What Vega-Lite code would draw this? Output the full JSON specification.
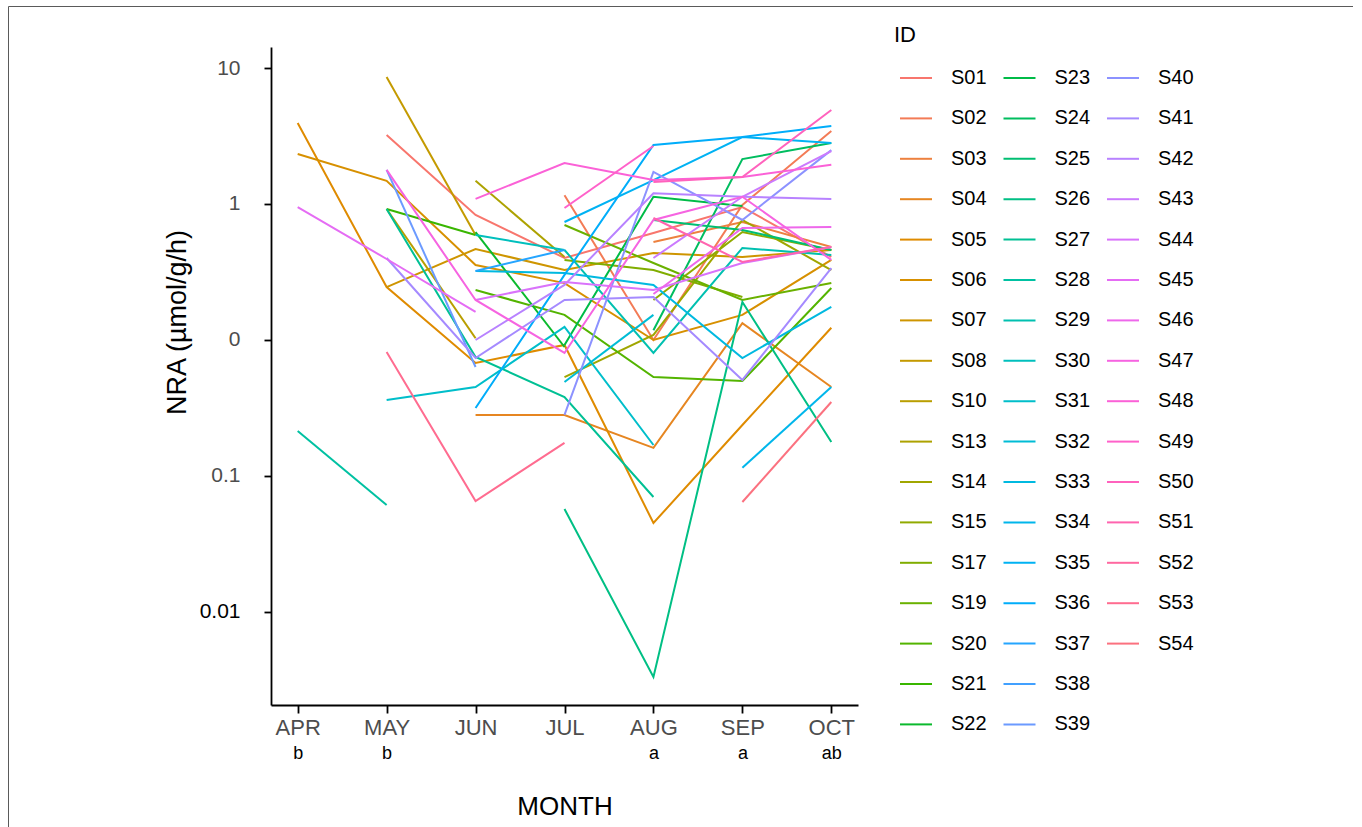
{
  "$schema": "https://vega.github.io/schema/vega-lite/v6.json",
  "width": 1345,
  "height": 824,
  "autosize": {"type": "none"},
  "padding": {"left": 8, "top": 6, "right": 0, "bottom": 0},
  "background": "white",
  "config": {"font": "Liberation Sans", "view": {"stroke": "#5a5a5a", "strokeWidth": 1}},
  "data": {"values": [
    {"ID":"S01","MONTH":"MAY","NRA":3.22},{"ID":"S01","MONTH":"JUN","NRA":0.830},{"ID":"S01","MONTH":"JUL","NRA":0.401},{"ID":"S01","MONTH":"AUG","NRA":0.612},{"ID":"S01","MONTH":"SEP","NRA":0.95},{"ID":"S01","MONTH":"OCT","NRA":0.408},
    {"ID":"S02","MONTH":"JUL","NRA":1.16},{"ID":"S02","MONTH":"AUG","NRA":0.100},{"ID":"S02","MONTH":"SEP","NRA":0.983},{"ID":"S02","MONTH":"OCT","NRA":3.44},
    {"ID":"S03","MONTH":"AUG","NRA":0.526},{"ID":"S03","MONTH":"SEP","NRA":0.737},{"ID":"S03","MONTH":"OCT","NRA":0.483},
    {"ID":"S04","MONTH":"JUN","NRA":0.0281},{"ID":"S04","MONTH":"JUL","NRA":0.0281},{"ID":"S04","MONTH":"AUG","NRA":0.0161},{"ID":"S04","MONTH":"SEP","NRA":0.133},{"ID":"S04","MONTH":"OCT","NRA":0.0451},
    {"ID":"S05","MONTH":"APR","NRA":3.94},{"ID":"S05","MONTH":"MAY","NRA":0.245},{"ID":"S05","MONTH":"JUN","NRA":0.0678},{"ID":"S05","MONTH":"JUL","NRA":0.0919},{"ID":"S05","MONTH":"AUG","NRA":0.00451},{"ID":"S05","MONTH":"SEP","NRA":0.0237},{"ID":"S05","MONTH":"OCT","NRA":0.123},
    {"ID":"S06","MONTH":"APR","NRA":2.33},{"ID":"S06","MONTH":"MAY","NRA":1.48},{"ID":"S06","MONTH":"JUN","NRA":0.356},{"ID":"S06","MONTH":"JUL","NRA":0.262},{"ID":"S06","MONTH":"AUG","NRA":0.100},{"ID":"S06","MONTH":"SEP","NRA":0.153},{"ID":"S06","MONTH":"OCT","NRA":0.388},
    {"ID":"S07","MONTH":"MAY","NRA":0.245},{"ID":"S07","MONTH":"JUN","NRA":0.467},{"ID":"S07","MONTH":"JUL","NRA":0.327},{"ID":"S07","MONTH":"AUG","NRA":0.436},{"ID":"S07","MONTH":"SEP","NRA":0.408},{"ID":"S07","MONTH":"OCT","NRA":0.459},
    {"ID":"S08","MONTH":"MAY","NRA":8.59},{"ID":"S08","MONTH":"JUN","NRA":0.592},
    {"ID":"S10","MONTH":"MAY","NRA":0.919},{"ID":"S10","MONTH":"JUN","NRA":0.103},
    {"ID":"S13","MONTH":"JUN","NRA":1.48},{"ID":"S13","MONTH":"JUL","NRA":0.408},
    {"ID":"S14","MONTH":"JUL","NRA":0.0534},{"ID":"S14","MONTH":"AUG","NRA":0.109},{"ID":"S14","MONTH":"SEP","NRA":0.763},{"ID":"S14","MONTH":"OCT","NRA":0.327},
    {"ID":"S15","MONTH":"AUG","NRA":0.197},{"ID":"S15","MONTH":"SEP","NRA":0.622},{"ID":"S15","MONTH":"OCT","NRA":0.459},
    {"ID":"S17","MONTH":"JUL","NRA":0.388},{"ID":"S17","MONTH":"AUG","NRA":0.327},{"ID":"S17","MONTH":"SEP","NRA":0.207},
    {"ID":"S19","MONTH":"JUL","NRA":0.701},{"ID":"S19","MONTH":"AUG","NRA":0.368},{"ID":"S19","MONTH":"SEP","NRA":0.197},{"ID":"S19","MONTH":"OCT","NRA":0.262},
    {"ID":"S20","MONTH":"JUN","NRA":0.233},{"ID":"S20","MONTH":"JUL","NRA":0.153},{"ID":"S20","MONTH":"AUG","NRA":0.0534},{"ID":"S20","MONTH":"SEP","NRA":0.0499},{"ID":"S20","MONTH":"OCT","NRA":0.241},
    {"ID":"S21","MONTH":"MAY","NRA":0.919},{"ID":"S21","MONTH":"JUN","NRA":0.592},
    {"ID":"S22","MONTH":"JUN","NRA":0.622},{"ID":"S22","MONTH":"JUL","NRA":0.0888},
    {"ID":"S23","MONTH":"JUL","NRA":0.0919},{"ID":"S23","MONTH":"AUG","NRA":1.13},{"ID":"S23","MONTH":"SEP","NRA":0.967},
    {"ID":"S24","MONTH":"AUG","NRA":0.118},{"ID":"S24","MONTH":"SEP","NRA":2.14},{"ID":"S24","MONTH":"OCT","NRA":2.81},
    {"ID":"S25","MONTH":"AUG","NRA":0.763},{"ID":"S25","MONTH":"SEP","NRA":0.644},{"ID":"S25","MONTH":"OCT","NRA":0.459},
    {"ID":"S26","MONTH":"JUL","NRA":0.00572},{"ID":"S26","MONTH":"AUG","NRA":0.000333},{"ID":"S26","MONTH":"SEP","NRA":0.190},{"ID":"S26","MONTH":"OCT","NRA":0.0178},
    {"ID":"S27","MONTH":"MAY","NRA":0.919},{"ID":"S27","MONTH":"JUN","NRA":0.0750},{"ID":"S27","MONTH":"JUL","NRA":0.0381},{"ID":"S27","MONTH":"AUG","NRA":0.00701},
    {"ID":"S28","MONTH":"APR","NRA":0.0214},{"ID":"S28","MONTH":"MAY","NRA":0.00612},
    {"ID":"S29","MONTH":"JUL","NRA":0.459},{"ID":"S29","MONTH":"AUG","NRA":0.0803},{"ID":"S29","MONTH":"SEP","NRA":0.475},{"ID":"S29","MONTH":"OCT","NRA":0.422},
    {"ID":"S30","MONTH":"JUN","NRA":0.592},{"ID":"S30","MONTH":"JUL","NRA":0.459},
    {"ID":"S31","MONTH":"MAY","NRA":0.0362},{"ID":"S31","MONTH":"JUN","NRA":0.0451},{"ID":"S31","MONTH":"JUL","NRA":0.125},{"ID":"S31","MONTH":"AUG","NRA":0.0169},
    {"ID":"S32","MONTH":"JUL","NRA":0.0491},{"ID":"S32","MONTH":"AUG","NRA":0.153},
    {"ID":"S33","MONTH":"JUN","NRA":0.322},{"ID":"S33","MONTH":"JUL","NRA":0.311},{"ID":"S33","MONTH":"AUG","NRA":0.254},{"ID":"S33","MONTH":"SEP","NRA":0.0737},{"ID":"S33","MONTH":"OCT","NRA":0.175},
    {"ID":"S34","MONTH":"SEP","NRA":0.0115},{"ID":"S34","MONTH":"OCT","NRA":0.0451},
    {"ID":"S35","MONTH":"JUL","NRA":0.737},{"ID":"S35","MONTH":"AUG","NRA":1.50},{"ID":"S35","MONTH":"SEP","NRA":3.11},{"ID":"S35","MONTH":"OCT","NRA":2.81},
    {"ID":"S36","MONTH":"JUN","NRA":0.0316},{"ID":"S36","MONTH":"JUL","NRA":0.301},{"ID":"S36","MONTH":"AUG","NRA":2.72},{"ID":"S36","MONTH":"SEP","NRA":3.11},{"ID":"S36","MONTH":"OCT","NRA":3.75},
    {"ID":"S37","MONTH":"JUN","NRA":0.322},{"ID":"S37","MONTH":"JUL","NRA":0.459},
    {"ID":"S39","MONTH":"MAY","NRA":1.78},{"ID":"S39","MONTH":"JUN","NRA":0.0633},
    {"ID":"S40","MONTH":"JUL","NRA":0.0281},{"ID":"S40","MONTH":"AUG","NRA":1.72},{"ID":"S40","MONTH":"SEP","NRA":0.763},{"ID":"S40","MONTH":"OCT","NRA":2.49},
    {"ID":"S41","MONTH":"MAY","NRA":0.401},{"ID":"S41","MONTH":"JUN","NRA":0.0737},{"ID":"S41","MONTH":"JUL","NRA":0.197},{"ID":"S41","MONTH":"AUG","NRA":0.207},{"ID":"S41","MONTH":"SEP","NRA":0.0508},{"ID":"S41","MONTH":"OCT","NRA":0.338},
    {"ID":"S42","MONTH":"JUN","NRA":0.100},{"ID":"S42","MONTH":"JUL","NRA":0.254},{"ID":"S42","MONTH":"AUG","NRA":1.20},{"ID":"S42","MONTH":"SEP","NRA":1.13},{"ID":"S42","MONTH":"OCT","NRA":1.09},
    {"ID":"S43","MONTH":"AUG","NRA":0.401},{"ID":"S43","MONTH":"SEP","NRA":1.13},{"ID":"S43","MONTH":"OCT","NRA":2.45},
    {"ID":"S44","MONTH":"JUN","NRA":0.197},{"ID":"S44","MONTH":"JUL","NRA":0.267},{"ID":"S44","MONTH":"AUG","NRA":0.233},{"ID":"S44","MONTH":"SEP","NRA":0.368},{"ID":"S44","MONTH":"OCT","NRA":0.483},
    {"ID":"S45","MONTH":"APR","NRA":0.95},{"ID":"S45","MONTH":"MAY","NRA":0.394},{"ID":"S45","MONTH":"JUN","NRA":0.161},
    {"ID":"S46","MONTH":"AUG","NRA":0.218},{"ID":"S46","MONTH":"SEP","NRA":0.666},{"ID":"S46","MONTH":"OCT","NRA":0.678},
    {"ID":"S47","MONTH":"MAY","NRA":1.78},{"ID":"S47","MONTH":"JUN","NRA":0.197},{"ID":"S47","MONTH":"JUL","NRA":0.0803},{"ID":"S47","MONTH":"AUG","NRA":0.763},{"ID":"S47","MONTH":"SEP","NRA":1.13},{"ID":"S47","MONTH":"OCT","NRA":0.388},
    {"ID":"S48","MONTH":"JUN","NRA":1.09},{"ID":"S48","MONTH":"JUL","NRA":2.00},{"ID":"S48","MONTH":"AUG","NRA":1.50},{"ID":"S48","MONTH":"SEP","NRA":1.58},{"ID":"S48","MONTH":"OCT","NRA":1.94},
    {"ID":"S49","MONTH":"JUL","NRA":0.935},{"ID":"S49","MONTH":"AUG","NRA":2.67},
    {"ID":"S50","MONTH":"AUG","NRA":1.45},{"ID":"S50","MONTH":"SEP","NRA":1.58},{"ID":"S50","MONTH":"OCT","NRA":4.91},
    {"ID":"S51","MONTH":"AUG","NRA":0.789},{"ID":"S51","MONTH":"SEP","NRA":0.375},{"ID":"S51","MONTH":"OCT","NRA":0.483},
    {"ID":"S53","MONTH":"MAY","NRA":0.0816},{"ID":"S53","MONTH":"JUN","NRA":0.00655},{"ID":"S53","MONTH":"JUL","NRA":0.0175},
    {"ID":"S54","MONTH":"SEP","NRA":0.00644},{"ID":"S54","MONTH":"OCT","NRA":0.0350}
  ]},
  "layer": [
    {
      "mark": {"type": "line", "strokeWidth": 2},
      "encoding": {
        "x": {
          "field": "MONTH", "type": "ordinal",
          "scale": {"type": "point", "domain": ["APR","MAY","JUN","JUL","AUG","SEP","OCT"], "range": [263, 850], "padding": 0.3},
          "axis": {"orient": "bottom", "offset": -125, "title": null, "labelAngle": 0, "labelFontSize": 22, "labelColor": "#4D4D4D", "labelPadding": 4, "tickSize": 8, "tickWidth": 1.8, "tickColor": "black", "domainColor": "black", "domainWidth": 1.8, "grid": false}
        },
        "y": {
          "field": "NRA", "type": "quantitative",
          "scale": {"type": "log", "domain": [0.000207, 14.27], "range": [699, 41], "nice": false},
          "axis": {
            "orient": "left", "offset": -263, "values": [10, 1, 0.1, 0.01, 0.001],
            "labelExpr": "datum.value >= 5 ? '10' : datum.value >= 0.5 ? '1' : datum.value >= 0.05 ? '0' : datum.value >= 0.005 ? '0.1' : '0.01'",
            "title": "NRA (µmol/g/h)", "titleFontSize": 27, "titleFontWeight": "normal", "titleColor": "black", "titlePadding": 8, "titleY": 316,
            "labelFontSize": 21, "labelColor": {"condition": {"test": "datum.value < 0.005", "value": "black"}, "value": "#4D4D4D"},
            "labelPadding": 24, "tickSize": 7, "tickWidth": 1.8, "tickColor": "black", "domainColor": "black", "domainWidth": 1.8, "grid": false
          }
        },
        "color": {
          "field": "ID", "type": "nominal",
          "scale": {
            "domain": ["S01","S02","S03","S04","S05","S06","S07","S08","S10","S13","S14","S15","S17","S19","S20","S21","S22","S23","S24","S25","S26","S27","S28","S29","S30","S31","S32","S33","S34","S35","S36","S37","S38","S39","S40","S41","S42","S43","S44","S45","S46","S47","S48","S49","S50","S51","S52","S53","S54","_1","_2"],
            "range": ["#F8766D","#F37B56","#ED813F","#E68621","#DF8B00","#D79000","#CE9500","#C49A00","#B99E00","#ADA200","#A0A600","#91AA00","#80AD00","#6AB100","#53B400","#39B600","#0BB92D","#00BB47","#00BD5F","#00BE72","#00BF84","#00C094","#00C1A2","#00C0B0","#00BFBD","#00BECA","#00BCD5","#00B9E0","#00B6EB","#00B2F3","#00ADFA","#25A5FF","#41A0FF","#6B9AFF","#8C92FF","#A58AFF","#B882FF","#CB7AFE","#D973FB","#E56CF4","#EE68EB","#F664E1","#FB61D7","#FF61CA","#FF62BD","#FF64AF","#FF68A0","#FF6C90","#FB717F","#ffffff","#ffffff"]
          },
          "legend": {
            "orient": "none", "legendX": 886, "legendY": 19, "columns": 3, "direction": "vertical", "symbolLimit": 0,
            "title": "ID", "titleFontSize": 22, "titleFontWeight": "normal", "titleColor": "black", "titlePadding": 14,
            "symbolType": "stroke", "symbolSize": 1024, "symbolStrokeWidth": 2, "symbolOffset": 5,
            "labelFontSize": 20, "labelColor": "black", "labelOffset": 18, "rowPadding": 13.4, "columnPadding": 10.5,
            "labelExpr": "indexof(datum.label, '_') == 0 ? '' : datum.label"
          }
        }
      }
    },
    {
      "mark": {"type": "point", "opacity": 0},
      "encoding": {
        "x": {
          "field": "MONTH", "type": "ordinal",
          "axis": {"orient": "bottom", "offset": -125, "title": "MONTH", "titleFontSize": 26, "titleFontWeight": "normal", "titleColor": "black", "titlePadding": 31,
            "domain": false, "ticks": false, "tickSize": 0, "labelPadding": 39, "labelFontSize": 18, "labelColor": "black", "labelAngle": 0, "grid": false,
            "labelExpr": "datum.value == 'APR' || datum.value == 'MAY' ? 'b' : datum.value == 'AUG' || datum.value == 'SEP' ? 'a' : datum.value == 'OCT' ? 'ab' : ''"}
        }
      }
    }
  ],
  "resolve": {"axis": {"x": "independent"}}
}
